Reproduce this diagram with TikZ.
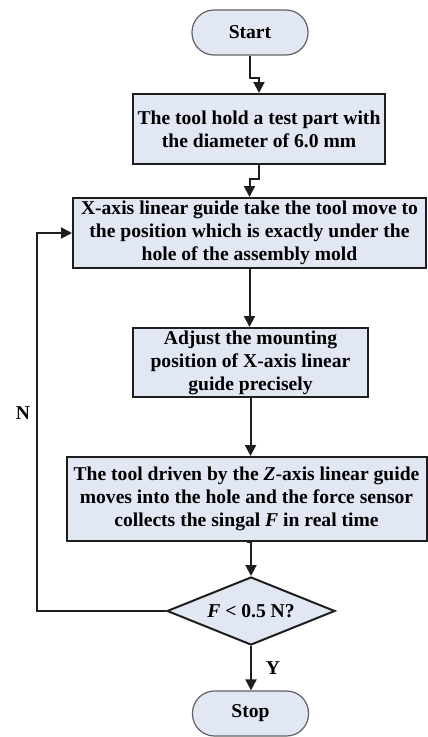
\documentclass[tikz,border=0pt]{standalone}
\usepackage{fontspec}
\setmainfont{Liberation Serif}
\usetikzlibrary{shapes.geometric,arrows.meta}
\definecolor{boxfill}{HTML}{E1E8F4}
\definecolor{edge}{HTML}{1E1E1E}
\begin{document}
\begin{tikzpicture}[x=1pt,y=1pt,
  every node/.style={font=\bfseries\fontsize{19.6}{23}\selectfont},
  procbox/.style={draw=edge, fill=boxfill, line width=2pt, align=center, inner sep=0pt},
  pill/.style={draw=edge!70, fill=boxfill, line width=1.2pt, rounded corners=22pt, minimum width=116pt, minimum height=45pt, inner sep=0pt},
  decis/.style={draw=edge, fill=boxfill, line width=2pt, diamond, shape aspect=2.47, minimum width=168pt, minimum height=68pt, inner sep=0pt},
  arr/.style={draw=edge, line width=2pt, -{Triangle[length=11pt,width=11pt]}},
  lbl/.style={inner sep=0pt}
]
\useasboundingbox (0,0) rectangle (428,-737);
\node[pill] (start) at (250,-32.5) {Start};
\node[procbox, minimum width=252pt, minimum height=70pt] (b1) at (259,-129) {The tool hold a test part with\\the diameter of 6.0 mm};
\node[procbox, minimum width=353pt, minimum height=70pt] (b2) at (249.5,-233) {X-axis linear guide take the tool move to\\the position which is exactly under the\\hole of the assembly mold};
\node[procbox, minimum width=235pt, minimum height=69pt] (b3) at (250.5,-362.5) {Adjust the mounting\\position of X-axis linear\\guide precisely};
\node[procbox, minimum width=360pt, minimum height=84pt] (b4) at (246.5,-499) {The tool driven by the \textit{Z}-axis linear guide\\moves into the hole and the force sensor\\collects the singal \textit{F} in real time};
\node[decis] (dec) at (251,-611) {\textit{F} < 0.5 N?};
\node[pill] (stop) at (250.5,-713.5) {Stop};
\draw[arr] (start.south) -- ++(0,-22) -| (b1.north);
\draw[arr] (b1.south) -- ++(0,-14) -| (b2.north);
\draw[arr] (b2.south) -- (b2.south |- b3.north);
\draw[arr] (b3.south) -- (b3.south |- b4.north);
\draw[arr] (b4.south) -- (b4.south -| dec.north) -- (dec.north);
\draw[arr] (dec.south) -- (dec.south |- stop.north);
\draw[arr] (dec.west) -- ++(-129,0) |- (b2.west);
\node[lbl] (ylab) at (273,-668) {Y};
\node[lbl] (nlab) at (23,-413) {N};
\end{tikzpicture}
\end{document}
